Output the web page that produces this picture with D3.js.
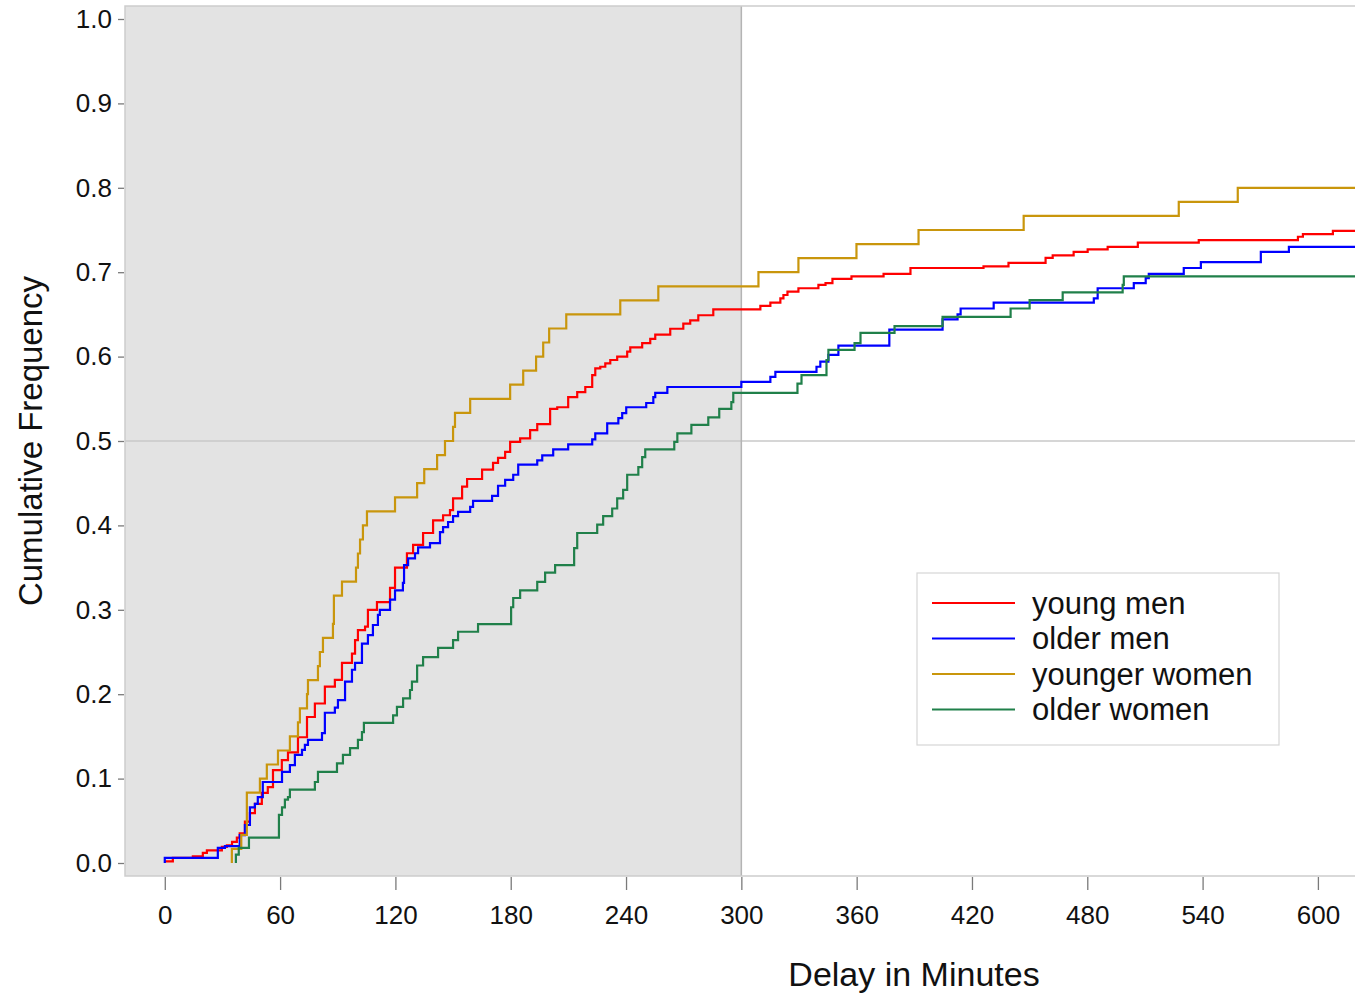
<!DOCTYPE html>
<html>
<head>
<meta charset="utf-8">
<script src="https://cdn.jsdelivr.net/npm/d3@7"></script>
<style>
  body { margin: 0; background: #fff; }
  svg { font-family: "Liberation Sans", Arial, sans-serif; }
</style>
</head>
<body>
<svg></svg>
<script>
// delay in minutes / cumulative frequency
const youngMenX = [0, 4.2, 14.6, 19.8, 21.9, 29.7, 32.3, 35, 37.5, 39, 41.7, 44.3, 46.9, 50.5, 53.6, 56.3, 60.9, 64.1, 69.3, 74, 78.1, 83.3, 88.5, 92.2, 97.4, 99, 100.5, 104.2, 105.7, 110.4, 117.2, 119.8, 126, 129.2, 134.4, 139.6, 144.8, 148.4, 150, 154.7, 157.3, 165.1, 170.8, 173.4, 177.1, 179.7, 184.9, 190.1, 193.8, 200.5, 204.2, 209.9, 214.6, 218.8, 222.4, 224, 226.6, 229.2, 231.8, 235.4, 240.6, 242.2, 248.4, 252.6, 255.2, 263, 269.8, 273.4, 277.6, 285.4, 309.9, 315.1, 320.3, 321.9, 324, 329.7, 340.1, 343.8, 347.4, 357.3, 374, 388, 426, 439, 458.3, 462, 472.9, 480.2, 490.6, 506.3, 538, 589.6, 592.2, 607.8];
const youngMenY = [0.002, 0.006, 0.008, 0.012, 0.015, 0.019, 0.021, 0.025, 0.03, 0.035, 0.049, 0.059, 0.07, 0.083, 0.09, 0.11, 0.122, 0.131, 0.149, 0.173, 0.189, 0.209, 0.217, 0.237, 0.248, 0.264, 0.276, 0.28, 0.3, 0.309, 0.326, 0.35, 0.367, 0.377, 0.391, 0.406, 0.412, 0.418, 0.432, 0.446, 0.455, 0.466, 0.474, 0.48, 0.487, 0.499, 0.503, 0.513, 0.52, 0.538, 0.54, 0.552, 0.558, 0.564, 0.578, 0.586, 0.588, 0.592, 0.596, 0.6, 0.606, 0.611, 0.616, 0.621, 0.626, 0.633, 0.639, 0.643, 0.649, 0.656, 0.66, 0.664, 0.669, 0.673, 0.677, 0.681, 0.685, 0.687, 0.692, 0.695, 0.698, 0.705, 0.707, 0.711, 0.717, 0.72, 0.724, 0.727, 0.73, 0.735, 0.738, 0.742, 0.745, 0.749];

const olderMenX = [0, 0, 27.6, 31.3, 39, 41.7, 44.3, 46.9, 48.4, 51, 61, 65.1, 67.7, 71.4, 72.9, 74.5, 81.8, 83.3, 88.5, 90.1, 93.8, 97.4, 99, 102.6, 105.7, 108.3, 110.9, 111.9, 117.2, 119.8, 123.9, 124.5, 126.6, 130.2, 131.8, 138, 143.2, 144.8, 147.4, 150, 152.6, 158.9, 160.4, 170.3, 173.4, 177.1, 181.3, 183.9, 193.8, 196.4, 202.1, 209.9, 222.4, 224, 230.2, 236, 238, 240.1, 250.5, 254.2, 255.2, 261.5, 300, 315.1, 317.7, 339.1, 341.1, 345.3, 350.5, 377, 404.7, 412.5, 414.1, 431.3, 483.4, 485.4, 504.2, 510.4, 512, 530.2, 539.1, 570.3, 584.9];
const olderMenY = [0, 0.006, 0.018, 0.02, 0.033, 0.045, 0.066, 0.07, 0.078, 0.096, 0.108, 0.116, 0.128, 0.134, 0.14, 0.146, 0.154, 0.178, 0.184, 0.193, 0.215, 0.229, 0.237, 0.26, 0.27, 0.282, 0.294, 0.3, 0.312, 0.323, 0.332, 0.353, 0.361, 0.367, 0.374, 0.379, 0.392, 0.398, 0.404, 0.411, 0.416, 0.422, 0.429, 0.435, 0.447, 0.454, 0.46, 0.472, 0.477, 0.483, 0.49, 0.496, 0.502, 0.509, 0.521, 0.527, 0.533, 0.54, 0.545, 0.552, 0.557, 0.564, 0.57, 0.576, 0.582, 0.588, 0.594, 0.602, 0.613, 0.632, 0.644, 0.65, 0.657, 0.664, 0.669, 0.681, 0.687, 0.693, 0.698, 0.705, 0.712, 0.724, 0.73];

const youngerWomenX = [34.9, 34.9, 39.8, 42.7, 49.5, 53.1, 58.9, 65.1, 69.3, 70.3, 74, 74.5, 79.7, 80.7, 82.3, 87.5, 88, 92.2, 99.5, 100.5, 101.6, 103.1, 105.2, 119.8, 131.3, 135, 141.7, 145.8, 150, 151, 158.9, 179.7, 186.5, 193.2, 196.9, 200, 208.9, 237, 256.8, 308.9, 329.7, 359.9, 392.2, 446.9, 527.6, 558.3];
const youngerWomenY = [0, 0.0167, 0.0333, 0.0833, 0.1, 0.1167, 0.1333, 0.15, 0.1667, 0.1833, 0.2, 0.2167, 0.2333, 0.25, 0.2667, 0.2833, 0.3167, 0.3333, 0.35, 0.3667, 0.3833, 0.4, 0.4167, 0.4333, 0.45, 0.4667, 0.4833, 0.5, 0.5167, 0.5333, 0.55, 0.5667, 0.5833, 0.6, 0.6167, 0.6333, 0.65, 0.6667, 0.6833, 0.7, 0.7167, 0.7333, 0.75, 0.7667, 0.7833, 0.8];

const olderWomenX = [37, 37, 38.5, 43.8, 59.4, 61, 62.5, 64.1, 65.1, 78.1, 79.7, 89.6, 92.7, 96.4, 100.5, 102.6, 103.6, 118.8, 120.8, 124, 127.6, 128.6, 131.3, 134.4, 142.2, 150, 152.6, 163, 180.2, 181.3, 184.9, 193.8, 197.9, 203.1, 213, 214.6, 225, 228.1, 232.8, 235.4, 238.5, 240.6, 246.4, 248.4, 250, 265.1, 266.7, 274, 282.8, 288.5, 294.8, 295.8, 329.2, 331.3, 344.3, 345.3, 358.9, 362, 379.7, 404.7, 440.1, 450, 467.2, 498.4, 499];
const olderWomenY = [0, 0.01, 0.018, 0.03, 0.057, 0.066, 0.075, 0.078, 0.087, 0.096, 0.108, 0.118, 0.128, 0.136, 0.146, 0.155, 0.166, 0.175, 0.185, 0.195, 0.205, 0.215, 0.234, 0.244, 0.255, 0.264, 0.274, 0.283, 0.303, 0.314, 0.323, 0.333, 0.344, 0.353, 0.373, 0.391, 0.401, 0.411, 0.42, 0.432, 0.442, 0.46, 0.469, 0.481, 0.49, 0.499, 0.509, 0.519, 0.528, 0.538, 0.546, 0.557, 0.568, 0.578, 0.596, 0.608, 0.616, 0.628, 0.636, 0.647, 0.657, 0.667, 0.676, 0.685, 0.695];

const seriesNames = ["young men", "older men", "younger women", "older women"];
const seriesColors = ["#ff0000", "#0000ff", "#c9960c", "#20804a"];
const xTicks = [0, 60, 120, 180, 240, 300, 360, 420, 480, 540, 600];
const yTicks = [0, 0.1, 0.2, 0.3, 0.4, 0.5, 0.6, 0.7, 0.8, 0.9, 1.0];
const shadeEnd = 300;
const refLevel = 0.5;

const series = [
  [youngMenX, youngMenY],
  [olderMenX, olderMenY],
  [youngerWomenX, youngerWomenY],
  [olderWomenX, olderWomenY]
].map(([xs, ys], i) => ({ name: seriesNames[i], color: seriesColors[i], pts: xs.map((x, j) => [x, ys[j]]) }));

const margin = { top: 6, right: 0, bottom: 119, left: 125 };
const W = 1355, H = 995;
const width = W - margin.left - margin.right;
const height = H - margin.top - margin.bottom;

const svg = d3.select("svg").attr("width", W).attr("height", H);
const g = svg.append("g").attr("transform", `translate(${margin.left},${margin.top})`);

const x = d3.scaleLinear().domain([-20.7, 619.3]).range([0, width]);
const y = d3.scaleLinear().domain([-0.0154, 1.0154]).range([height, 0]);

// shaded part up to 300 minutes
g.append("rect")
  .attr("x", 0).attr("y", 0)
  .attr("width", x(shadeEnd)).attr("height", height)
  .attr("fill", "#e3e3e3");

g.append("line")
  .attr("x1", 0).attr("x2", width)
  .attr("y1", y(refLevel)).attr("y2", y(refLevel))
  .attr("stroke", "#c8c8c8").attr("stroke-width", 1.5);

g.append("line")
  .attr("x1", x(shadeEnd)).attr("x2", x(shadeEnd))
  .attr("y1", 0).attr("y2", height)
  .attr("stroke", "#b4b4b4").attr("stroke-width", 1.5);

// frame
g.append("path")
  .attr("d", `M${width},0H0V${height}H${width}`)
  .attr("fill", "none").attr("stroke", "#cdcdcd").attr("stroke-width", 1.5);

svg.append("defs").append("clipPath").attr("id", "clip")
  .append("rect").attr("width", width).attr("height", height);

const line = d3.line().curve(d3.curveStepAfter).x(d => x(d[0])).y(d => y(d[1]));

g.append("g").attr("clip-path", "url(#clip)")
  .selectAll("path")
  .data(series)
  .enter().append("path")
  .attr("fill", "none")
  .attr("stroke", d => d.color)
  .attr("stroke-width", 2.2)
  .attr("d", d => line(d.pts.concat([[x.domain()[1], d.pts[d.pts.length - 1][1]]])));

// axes
const xAxis = d3.axisBottom(x).tickValues(xTicks).tickSize(13).tickPadding(16).tickFormat(d3.format("d"));
const yAxis = d3.axisLeft(y).tickValues(yTicks).tickSize(6).tickPadding(6).tickFormat(d3.format(".1f"));

const xg = g.append("g").attr("transform", `translate(0,${height + 1})`).call(xAxis);
const yg = g.append("g").attr("transform", "translate(-1,0)").call(yAxis);
[xg, yg].forEach(a => {
  a.select(".domain").remove();
  a.selectAll(".tick line").attr("stroke", "#7a7a7a").attr("stroke-width", 1.3);
  a.selectAll("text").attr("fill", "#111").style("font-size", "26px").style("font-family", "Liberation Sans, Arial, sans-serif");
});

svg.append("text")
  .attr("x", 914).attr("y", 986)
  .attr("text-anchor", "middle")
  .style("font-size", "34px").attr("fill", "#111")
  .text("Delay in Minutes");

svg.append("text")
  .attr("transform", "translate(42,441) rotate(-90)")
  .attr("text-anchor", "middle")
  .style("font-size", "33px").attr("fill", "#111")
  .text("Cumulative Frequency");

// legend
const lg = svg.append("g").attr("transform", "translate(917,573)");
lg.append("rect")
  .attr("width", 362).attr("height", 172)
  .attr("fill", "#fff").attr("stroke", "#d6d6d6").attr("stroke-width", 1.2);
const items = lg.selectAll("g.item").data(series).enter().append("g")
  .attr("transform", (d, i) => `translate(0,${30 + i * 35.5})`);
items.append("line")
  .attr("x1", 15).attr("x2", 98)
  .attr("stroke", d => d.color).attr("stroke-width", 2.2);
items.append("text")
  .attr("x", 115).attr("dy", "0.35em")
  .style("font-size", "31px").attr("fill", "#111")
  .text(d => d.name);
</script>
</body>
</html>
